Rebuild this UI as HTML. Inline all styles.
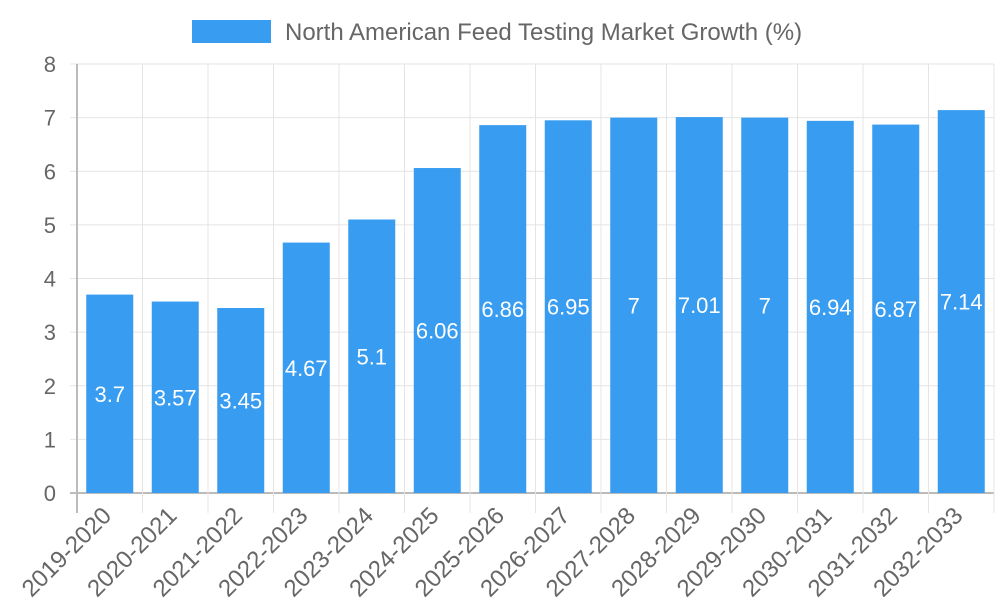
<!DOCTYPE html>
<html><head><meta charset="utf-8"><style>
body{margin:0;background:#fff;font-family:"Liberation Sans",sans-serif}
svg{display:block}
</style></head><body>
<svg id="c" width="1000" height="600"></svg>
<script>
const categories=["2019-2020","2020-2021","2021-2022","2022-2023","2023-2024","2024-2025","2025-2026","2026-2027","2027-2028","2028-2029","2029-2030","2030-2031","2031-2032","2032-2033"];
const values=[3.7,3.57,3.45,4.67,5.1,6.06,6.86,6.95,7,7.01,7,6.94,6.87,7.14];
const yTicks=[0,1,2,3,4,5,6,7,8];
const NS="http://www.w3.org/2000/svg";
const svg=document.getElementById('c');
const L=77,R=994,T=64,B=493,ymax=8;
const bw=(R-L)/categories.length;
const y=v=>B-(B-T)*v/ymax;
const x=i=>L+bw*i;
function mk(t,a,p){const e=document.createElementNS(NS,t);for(const k in a)e.setAttribute(k,a[k]);(p||svg).appendChild(e);return e;}
for(const t of yTicks){
 const g=mk('line',{x1:L-7,x2:R,y1:y(t),y2:y(t),stroke:t===0?'#bbb':'#e4e4e4','stroke-width':t===0?2:1});
 
 
 const tx=mk('text',{x:56,y:y(t)+8,'text-anchor':'end','font-size':22,fill:'#666'});
 tx.textContent=t;
 
 
}
for(let i=0;i<=categories.length;i++){
 const g=mk('line',{x1:x(i),x2:x(i),y1:T,y2:B+20,stroke:i===0?'#bbb':'#e4e4e4','stroke-width':i===0?2:1});
 
 
}
categories.forEach((c,i)=>{
 const cx=x(i)+bw/2,v=values[i];
 const r=mk('rect',{x:cx-23.5,y:y(v),width:47,height:B-y(v),fill:'#389cf0'});
 
 
 const vl=mk('text',{x:cx,y:(y(v)+B)/2+8,'text-anchor':'middle','font-size':22,fill:'#fff'});
 vl.textContent=v;
 
 
 const xl=mk('text',{x:0,y:0,'text-anchor':'end','font-size':24,fill:'#666',transform:`translate(${cx+3},${B+24}) rotate(-45)`});
 xl.textContent=c;
 
 
});
const lb=mk('rect',{x:192,y:20,width:79,height:23,fill:'#389cf0'});


const lt=mk('text',{x:285,y:40,'font-size':24,fill:'#666'});
lt.textContent='North American Feed Testing Market Growth (%)';


</script>
</body></html>
